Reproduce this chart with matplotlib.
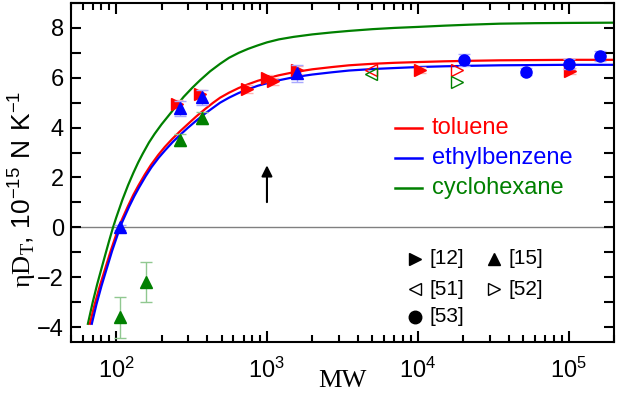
import numpy as np
import matplotlib
matplotlib.use("Agg")
import matplotlib.pyplot as plt
from matplotlib.ticker import MultipleLocator, LogLocator, NullFormatter

plt.rcParams["font.family"] = ["Liberation Sans", "DejaVu Sans"]
plt.rcParams["mathtext.fontset"] = "custom"
plt.rcParams["mathtext.rm"] = "Liberation Serif"
plt.rcParams["mathtext.sf"] = "Liberation Sans"

# -----------------------------
# data
# -----------------------------
# model curves
tol_M = [67, 72, 78, 85, 92, 100, 104, 110, 120, 130, 140, 155, 170, 190, 210,
         235, 265, 300, 340, 390, 440, 489, 560, 650, 750, 870, 1000, 1200,
         1500, 2000, 2700, 3500, 5000, 7000, 10000, 15000, 22000, 35000,
         60000, 100000, 200000]
tol_y = [-3.87, -3.1, -2.35, -1.62, -0.95, -0.3, 0.0, 0.35, 0.86, 1.3, 1.66,
         2.12, 2.5, 2.9, 3.22, 3.54, 3.85, 4.15, 4.45, 4.75, 5.0, 5.2, 5.4,
         5.59, 5.74, 5.88, 5.98, 6.1, 6.22, 6.34, 6.43, 6.5, 6.56, 6.6, 6.63,
         6.66, 6.68, 6.7, 6.71, 6.72, 6.72]

eb_M = [69, 74, 80, 87, 94, 102, 106, 112, 122, 132, 142, 157, 172, 192, 212,
        237, 267, 300, 340, 390, 440, 489, 560, 650, 750, 870, 1000, 1200,
        1500, 2000, 2700, 3500, 5000, 7000, 10000, 15000, 22000, 35000,
        60000, 100000, 200000]
eb_y = [-3.87, -3.1, -2.35, -1.62, -0.95, -0.32, 0.0, 0.33, 0.83, 1.25, 1.6,
        2.05, 2.42, 2.8, 3.1, 3.42, 3.72, 4.0, 4.28, 4.57, 4.8, 5.0, 5.2,
        5.39, 5.54, 5.68, 5.78, 5.9, 6.02, 6.13, 6.22, 6.29, 6.35, 6.39, 6.43,
        6.46, 6.48, 6.5, 6.51, 6.52, 6.52]

cy_M = [65, 70, 75, 80, 85, 90, 95, 100, 110, 120, 130, 140, 150, 165, 180,
        200, 220, 250, 280, 320, 360, 420, 489, 560, 650, 750, 870, 1000, 1200,
        1500, 2000, 2700, 3500, 5000, 7000, 10000, 15000, 22000, 35000, 60000,
        100000, 200000]
cy_y = [-3.87, -3.0, -2.27, -1.65, -1.07, -0.53, -0.04, 0.38, 1.1, 1.69, 2.18,
        2.6, 2.95, 3.4, 3.75, 4.13, 4.44, 4.86, 5.23, 5.6, 5.9, 6.26, 6.56,
        6.8, 7.0, 7.16, 7.3, 7.42, 7.54, 7.64, 7.74, 7.82, 7.88, 7.95, 8.0,
        8.04, 8.09, 8.13, 8.17, 8.19, 8.2, 8.21]

# [12] toluene, filled right triangles
tol12_M = [255, 360, 735, 1000, 1100, 1580, 10300, 102000]
tol12_y = [4.95, 5.35, 5.54, 5.98, 5.86, 6.31, 6.31, 6.29]
tol12_err = [0.15, 0.15, 0.15, 0.15, 0.15, 0.15, 0.12, 0.12]

# [15] filled up triangles
eb15_M = [106, 265, 370, 1580]
eb15_y = [0.0, 4.78, 5.22, 6.18]
eb15_err = [0.1, 0.3, 0.3, 0.35]

cy15_M = [106, 158, 265, 370]
cy15_y = [-3.6, -2.2, 3.5, 4.38]
cy15_err = [0.82, 0.8, 0.25, 0.25]

# [51] open left triangles, [52] open right triangles
tol51_M, tol51_y = [4900], [6.3]
cy51_M, cy51_y = [4900], [6.17]
tol52_M, tol52_y = [18100], [6.31]
cy52_M, cy52_y = [18100], [5.84]

# [53] ethylbenzene circles
eb53_M = [20400, 52000, 99800, 162000]
eb53_y = [6.71, 6.25, 6.55, 6.88]
eb53_err = [0.25, 0.15, 0.2, 0.2]

RED = "#ff0000"
BLUE = "#0000ff"
GREEN = "#008000"
LRED = "#ffb0b0"
LBLUE = "#a8a8ff"
LGREEN = "#90c890"

# -----------------------------
# figure
# -----------------------------
fig = plt.figure(figsize=(6.17, 3.98), dpi=100)
ax = fig.add_axes([0.1146, 0.1407, 0.8806, 0.8518])

ax.axhline(0, color="#808080", lw=1.0, zorder=1)

ax.plot(cy_M, cy_y, color=GREEN, lw=1.6, zorder=2)
ax.plot(tol_M, tol_y, color=RED, lw=1.6, zorder=2)
ax.plot(eb_M, eb_y, color=BLUE, lw=1.6, zorder=2)

ms = 8.5
ax.errorbar(tol12_M, tol12_y, yerr=tol12_err, fmt=">", color=RED, ms=ms,
            ecolor=LRED, elinewidth=1, capsize=4, zorder=3)
ax.errorbar(eb15_M, eb15_y, yerr=eb15_err, fmt="^", color=BLUE, ms=ms,
            ecolor=LBLUE, elinewidth=1, capsize=4, zorder=4)
ax.errorbar(cy15_M, cy15_y, yerr=cy15_err, fmt="^", color=GREEN, ms=ms,
            ecolor=LGREEN, elinewidth=1, capsize=4, zorder=4)
ax.plot(tol51_M, tol51_y, "<", mfc="none", mec=RED, ms=ms, zorder=4)
ax.plot(cy51_M, cy51_y, "<", mfc="none", mec=GREEN, ms=ms, zorder=4)
ax.plot(tol52_M, tol52_y, ">", mfc="none", mec=RED, ms=ms, zorder=4)
ax.plot(cy52_M, cy52_y, ">", mfc="none", mec=GREEN, ms=ms, zorder=4)
ax.errorbar(eb53_M, eb53_y, yerr=eb53_err, fmt="o", color=BLUE, ms=8,
            ecolor=LBLUE, elinewidth=1, capsize=4, zorder=4)

# arrow at 10^3
ax.annotate("", xy=(1000, 2.6), xytext=(1000, 0.9),
            arrowprops=dict(arrowstyle="-|>", color="k", lw=1.5,
                            mutation_scale=16))

# line legend
leg_rows = [("toluene", RED), ("ethylbenzene", BLUE), ("cyclohexane", GREEN)]
for i, (name, col) in enumerate(leg_rows):
    yy = 0.631 - i * 0.0885
    ax.plot([0.597, 0.646], [yy, yy], color=col, lw=1.8, transform=ax.transAxes)
    ax.text(0.665, yy, name, color=col, fontsize=17, va="center", ha="left",
            transform=ax.transAxes)

# symbol legend
sym_rows = [(">", "k", 0.634, 0.245, "[12]"), ("^", "k", 0.779, 0.245, "[15]"),
            ("<", "none", 0.634, 0.156, "[51]"), (">", "none", 0.779, 0.156, "[52]"),
            ("o", "k", 0.634, 0.074, "[53]")]
for mk, fc, xx, yy, lab in sym_rows:
    ax.plot([xx], [yy], mk, mfc=fc, mec="k", ms=9, transform=ax.transAxes)
    ax.text(xx + 0.026, yy, lab, fontsize=15, va="center", ha="left",
            transform=ax.transAxes)

ax.set_xscale("log")
ax.set_xlim(50, 2e5)
ax.set_ylim(-4.6, 9)
ax.yaxis.set_major_locator(MultipleLocator(2))
ax.yaxis.set_minor_locator(MultipleLocator(1))
ax.xaxis.set_major_locator(LogLocator(base=10, numticks=10))
ax.xaxis.set_minor_locator(LogLocator(base=10, subs=np.arange(2, 10), numticks=10))
ax.xaxis.set_minor_formatter(NullFormatter())

ax.tick_params(which="both", direction="in", top=True, right=True, width=1.5,
               labelsize=17)
ax.tick_params(axis="x", which="major", length=8, pad=11)
ax.tick_params(axis="x", which="minor", length=5)
ax.tick_params(axis="y", which="both", length=7, pad=5)
for s in ax.spines.values():
    s.set_linewidth(1.5)

ax.set_xlabel("MW", fontsize=19, family="Liberation Serif", labelpad=-9)
ax.set_ylabel(r"$\mathrm{\eta D_T}$, $\mathsf{10^{-15}\ N\ K^{-1}}$",
              fontsize=19)
ax.yaxis.set_label_coords(-0.058, 0.45)

fig.savefig("out.png", dpi=100)
